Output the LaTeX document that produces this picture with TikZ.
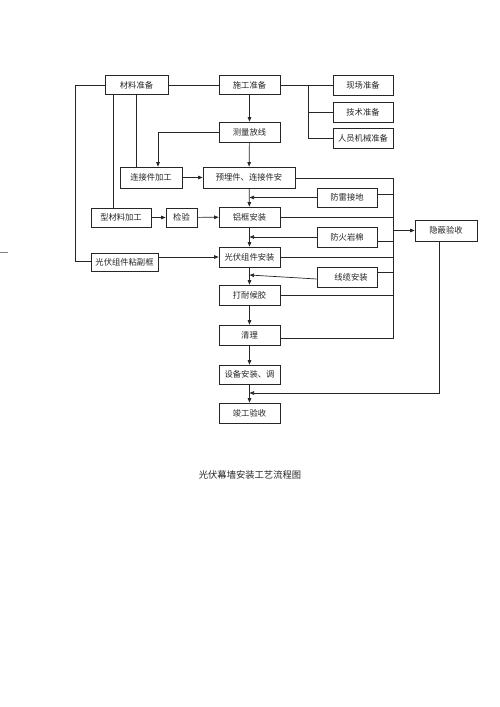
\documentclass[tikz,border=0pt]{standalone}
\usepackage{fontspec}
\newfontfamily\cjk{Noto Sans CJK SC}
\usetikzlibrary{arrows.meta}
\begin{document}
\begin{tikzpicture}[x=1pt,y=-1pt,
  box/.style={draw=black!85,line width=0.7pt,rectangle,minimum height=19pt,inner sep=0pt,font=\cjk\fontsize{8.3}{9}\selectfont,text=black!85},
  ln/.style={draw=black!85,line width=0.7pt},
  ar/.style={ln,-{Triangle[length=4.5pt,width=3.5pt]}}]
\useasboundingbox[fill=white] (0,0) rectangle (500,707);
% boxes
\node[box,minimum width=63pt] (cl) at (136.5,85) {材料准备};
\node[box,minimum width=61pt] (sg) at (249.5,85) {施工准备};
\node[box,minimum width=60pt,minimum height=20pt] (xc) at (363,85) {现场准备};
\node[box,minimum width=60pt,minimum height=20pt] (js) at (363,112) {技术准备};
\node[box,minimum width=60pt,minimum height=20pt] (ry) at (363,138) {人员机械准备};
\node[box,minimum width=61pt,minimum height=20pt] (cf) at (249.5,132) {测量放线};
\node[box,minimum width=62pt,minimum height=21pt] (lj) at (151,177.5) {连接件加工};
\node[box,minimum width=92pt,minimum height=21pt] (yl) at (249,177.5) {预埋件、连接件安};
\node[box,minimum width=60pt] (fl) at (347,197.5) {防雷接地};
\node[box,minimum width=60pt] (xx) at (121,217.5) {型材料加工};
\node[box,minimum width=31pt] (jy) at (181.5,217.5) {检验};
\node[box,minimum width=61pt,minimum height=20pt] (lk) at (249.5,217) {铝框安装};
\node[box,minimum width=62pt,minimum height=21pt] (yb) at (446,230.5) {隐蔽验收};
\node[box,minimum width=60pt,minimum height=20pt] (fh) at (347,237) {防火岩棉};
\node[box,minimum width=67pt,minimum height=18pt] (gf) at (124.5,262) {光伏组件粘副框};
\node[box,minimum width=61pt,minimum height=20pt] (gz) at (249.5,257) {光伏组件安装};
\node[box,minimum width=60pt,minimum height=20pt] (xl) at (347,277) {\hspace*{8pt}线缆安装};
\node[box,minimum width=61pt,minimum height=20pt] (dn) at (249.5,295) {打耐候胶};
\node[box,minimum width=61pt,minimum height=20pt] (ql) at (249.5,335) {清理};
\node[box,minimum width=61pt,minimum height=19pt] (sb) at (249.5,374.5) {设备安装、调};
\node[box,minimum width=61pt,minimum height=20pt] (jg) at (249.5,413) {竣工验收};
\node[font=\cjk\fontsize{9.3}{10}\selectfont,text=black!85] (title) at (250,475) {光伏幕墙安装工艺流程图};
% coordinates
\coordinate (lt) at (75,85);
\coordinate (lb) at (75,261);
\coordinate (br) at (308,85);
\coordinate (bt) at (393,178);
\coordinate (bb) at (393,338);
\coordinate (mk1) at (0,252);
\coordinate (mk2) at (8,252);
% top line
\draw[ln] (lt) -- (cl.west);
\draw[ln] (cl.east) -- (sg.west);
\draw[ln] (sg.east) -- (xc.west);
\draw[ln] (br) |- (ry.west);
\draw[ln] (br |- js.west) -- (js.west);
% left line
\draw[ln] (lt) -- (lb) -- (gf.west |- lb);
% from materials
\draw[ln] (cl.south -| 136,0) -- (lj.north -| 136,0);
\draw[ln] (cl.south -| 113,0) -- (xx.north -| 113,0);
% main column
\draw[ar] (sg) -- (cf);
\draw[ar] (cf.west) -| (158,0 |- lj.north);
\draw[ar] (cf) -- (yl);
\draw[ar] (lj) -- (yl);
\draw[ar] (yl) -- (lk);
\draw[ar] (xx) -- (jy);
\draw[ar] (jy) -- (lk);
\draw[ar] (lk) -- (gz);
\draw[ar] (gf.east |- gz) -- (gz.west);
\draw[ar] (gz) -- (dn);
\draw[ar] (dn) -- (ql);
\draw[ar] (ql) -- (sb);
\draw[ar] (sb) -- (jg);
% side boxes into main column
\draw[ar] (fl.west) -- (249.5,197.5);
\draw[ar] (fh.west) -- (249.5,237);
\draw[ar] ([yshift=-2pt]xl.west) -- (249.5,275);
% bus on the right
\draw[ln] (yl.east |- bt) -- (bt) -- (bb) -- (ql.east |- bb);
\draw[ln] ([yshift=3.5pt]fl.east) -- (393,194);
\draw[ln] (lk.east) -- (lk.east -| bt);
\draw[ln] ([yshift=-4pt]fh.east) -- (393,241);
\draw[ln] (gz.east) -- (gz.east -| bt);
\draw[ln] ([yshift=5pt]xl.east) -- (393,272);
\draw[ln] (dn.east) -- (dn.east -| bt);
\draw[ar] (393,0 |- yb.west) -- (yb.west);
% hidden acceptance back to main
\draw[ar] (yb.south -| 439,0) -- (439,393) -- (249.5,393);
% small mark at left edge
\draw[gray,line width=0.6pt] (mk1) -- (mk2);
\end{tikzpicture}
\end{document}
